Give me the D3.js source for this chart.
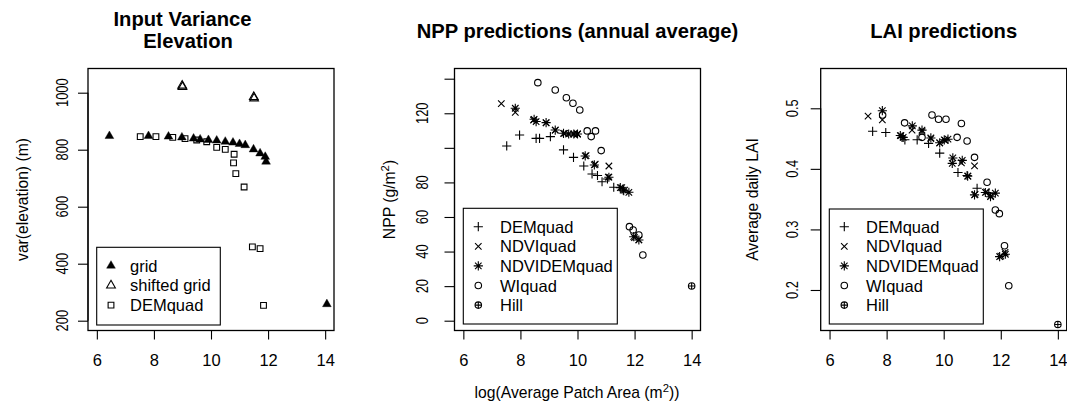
<!DOCTYPE html>
<html><head><meta charset="utf-8">
<script src="https://cdn.jsdelivr.net/npm/d3@7"></script>
<style>
html,body{margin:0;padding:0;background:#fff;}
svg text{font-family:"Liberation Sans",Arial,Helvetica,sans-serif;fill:#000;}
</style></head>
<body><svg id="c" width="1067" height="408"></svg>
<script>
// ---------- data ----------
const xTicks = [6, 8, 10, 12, 14];

// Panel 1: Input variance elevation
const elevYTicks = [200, 400, 600, 800, 1000];
const elevYLabels = ["200", "400", "600", "800", "1000"];
const gridX = [6.44, 7.81, 8.51, 8.98, 9.39, 9.62, 9.91, 10.2, 10.5, 10.77, 11.0, 11.2, 11.49, 11.72, 11.9, 11.93, 14.06];
const gridY = [848, 848, 846, 843, 839, 836, 834, 832, 828, 825, 820, 816, 801, 787, 775, 758, 258];
const shiftedX = [8.99, 9.0, 11.5, 11.51];
const shiftedY = [1025, 1020, 985, 980];
const elevDemX = [7.52, 8.07, 8.66, 9.09, 9.5, 9.85, 10.2, 10.5, 10.81, 10.79, 10.87, 11.16, 11.45, 11.72, 11.84];
const elevDemY = [846, 846, 843, 839, 834, 828, 808, 801, 784, 754, 716, 669, 459, 453, 254];

// Panel 2: NPP predictions
const nppYTicks = [0, 20, 40, 60, 80, 100, 120, 140];
const nppYLabels = ["0", "20", "40", "60", "80", "", "120", ""];
const nppDemX = [7.52, 7.97, 8.55, 8.67, 9.05, 9.51, 9.86, 10.22, 10.51, 10.7, 10.86, 11.05, 11.27, 11.62];
const nppDemY = [101.1, 107.4, 105.5, 105.5, 106.5, 98.8, 94.5, 89.5, 84.9, 84.0, 80.4, 82.0, 77.2, 75.2];
const nppNdviX = [7.33, 7.82, 8.46, 8.9, 9.22, 9.55, 9.87, 10.0, 10.3, 10.62, 11.1, 11.08, 11.55, 11.65, 12.0, 12.15];
const nppNdviY = [125.6, 120.5, 116.1, 114.5, 110.3, 108.4, 108.0, 108.0, 95.5, 90.5, 89.5, 83.0, 77.0, 75.5, 48.0, 46.8];
const nppNdvidemX = [7.82, 8.48, 8.55, 8.9, 9.22, 9.51, 9.69, 9.87, 10.0, 10.27, 10.59, 11.1, 11.5, 11.6, 11.8, 11.97, 12.15];
const nppNdvidemY = [122.9, 116.5, 115.2, 114.6, 110.3, 108.4, 108.0, 108.0, 108.0, 95.3, 90.1, 83.0, 77.0, 75.6, 74.3, 48.6, 46.7];
const nppWiX = [8.61, 9.22, 9.61, 9.84, 10.08, 10.34, 10.48, 10.63, 10.83, 11.82, 11.95, 12.15, 12.29];
const nppWiY = [137.7, 133.5, 129.0, 125.8, 121.9, 109.8, 106.5, 109.8, 98.4, 54.4, 52.5, 49.6, 38.0];
const nppHillX = [14.0];
const nppHillY = [20.1];

// Panel 3: LAI predictions
const laiYTicks = [0.2, 0.3, 0.4, 0.5];
const laiYLabels = ["0.2", "0.3", "0.4", "0.5"];
const laiDemX = [7.51, 7.97, 8.54, 8.64, 9.07, 9.47, 9.86, 10.3, 10.5, 10.82, 11.17, 11.58];
const laiDemY = [0.462, 0.460, 0.452, 0.448, 0.448, 0.442, 0.426, 0.409, 0.394, 0.389, 0.368, 0.360];
const laiNdviX = [7.35, 7.85, 8.5, 8.89, 9.24, 9.55, 9.86, 10.05, 10.3, 10.62, 10.85, 11.08, 11.1, 11.5, 11.65, 12.0, 12.15];
const laiNdviY = [0.487, 0.481, 0.455, 0.464, 0.462, 0.450, 0.443, 0.447, 0.409, 0.410, 0.388, 0.405, 0.358, 0.362, 0.355, 0.256, 0.262];
const laiNdvidemX = [7.85, 8.48, 8.58, 8.9, 9.24, 9.55, 9.86, 10.02, 10.15, 10.32, 10.65, 10.84, 11.08, 11.46, 11.64, 11.81, 11.96, 12.16];
const laiNdvidemY = [0.496, 0.455, 0.452, 0.471, 0.464, 0.451, 0.443, 0.448, 0.449, 0.418, 0.414, 0.388, 0.357, 0.361, 0.354, 0.360, 0.255, 0.259];
const laiWiX = [7.86, 8.63, 9.24, 9.59, 9.82, 10.08, 10.47, 10.62, 10.82, 11.08, 11.52, 11.81, 11.95, 12.13, 12.28];
const laiWiY = [0.489, 0.476, 0.452, 0.489, 0.482, 0.482, 0.452, 0.475, 0.446, 0.419, 0.378, 0.332, 0.326, 0.273, 0.207];
const laiHillX = [14.0];
const laiHillY = [0.143];

// ---------- drawing ----------
const svg = d3.select("#c");
const R = 3.25;
const FONT_TICK = 16.5, FONT_LAB = 15.7, FONT_LEG = 16.5, FONT_TITLE = 20.2;

function symPath(type) {
  const p = d3.path();
  if (type === "tri" || type === "triFill") {
    const r = 1.5551 * R, xc = 1.3468 * R, yc = 0.7776 * R;
    p.moveTo(0, -r); p.lineTo(xc, yc); p.lineTo(-xc, yc); p.closePath();
  } else if (type === "square") {
    const h = 0.8862 * R; p.rect(-h, -h, 2 * h, 2 * h);
  } else if (type === "plus") {
    const h = Math.SQRT2 * R; p.moveTo(-h, 0); p.lineTo(h, 0); p.moveTo(0, -h); p.lineTo(0, h);
  } else if (type === "cross") {
    const h = R; p.moveTo(-h, -h); p.lineTo(h, h); p.moveTo(-h, h); p.lineTo(h, -h);
  } else if (type === "star") {
    let h = R; p.moveTo(-h, -h); p.lineTo(h, h); p.moveTo(-h, h); p.lineTo(h, -h);
    h = Math.SQRT2 * R; p.moveTo(-h, 0); p.lineTo(h, 0); p.moveTo(0, -h); p.lineTo(0, h);
  } else if (type === "circle") {
    p.moveTo(R, 0); p.arc(0, 0, R, 0, 2 * Math.PI);
  } else if (type === "circplus") {
    p.moveTo(R, 0); p.arc(0, 0, R, 0, 2 * Math.PI);
    p.moveTo(-R, 0); p.lineTo(R, 0); p.moveTo(0, -R); p.lineTo(0, R);
  }
  return p.toString();
}
function drawSym(g, type, x, y) {
  const path = g.append("path").attr("d", symPath(type)).attr("transform", `translate(${x},${y})`);
  if (type === "triFill") {
    path.attr("fill", "#000").attr("stroke", "#000").attr("stroke-width", 0.4);
  } else {
    path.attr("fill", "none").attr("stroke", "#000").attr("stroke-width", 1.1);
  }
}

const TOP = 68.5, BOTTOM = 330.5;
const xDomain = [5.69, 14.31];

const panels = [
  {
    left: 88, right: 334, yDomain: [165.6, 1084.9],
    yTicks: elevYTicks, yLabels: elevYLabels, tickLabX: 68.3, axisTitleX: 28,
    ylab: [{t: "var(elevation) (m)"}],
    title: [{t: "Input Variance", x: 182.5, y: 26}, {t: "Elevation", x: 188, y: 48}],
    series: [
      {name: "grid", sym: "triFill", x: gridX, y: gridY},
      {name: "shifted grid", sym: "tri", x: shiftedX, y: shiftedY},
      {name: "DEMquad", sym: "square", x: elevDemX, y: elevDemY}
    ],
    legend: {x0: 96.7, y0: 247.3, x1: 220.3, y1: 325, symX: 111, textX: 130, row0: 265.7, dy: 19.7}
  },
  {
    left: 454.5, right: 700.5, yDomain: [-5.67, 145.9],
    yTicks: nppYTicks, yLabels: nppYLabels, tickLabX: 428.3, axisTitleX: 395,
    ylab: [{t: "NPP (g/m"}, {t: "2", sup: true}, {t: ")"}],
    title: [{t: "NPP predictions (annual average)", x: 577.5, y: 37.5}],
    series: [
      {name: "DEMquad", sym: "plus", x: nppDemX, y: nppDemY},
      {name: "NDVIquad", sym: "cross", x: nppNdviX, y: nppNdviY},
      {name: "NDVIDEMquad", sym: "star", x: nppNdvidemX, y: nppNdvidemY},
      {name: "WIquad", sym: "circle", x: nppWiX, y: nppWiY},
      {name: "Hill", sym: "circplus", x: nppHillX, y: nppHillY}
    ],
    legend: {x0: 463.3, y0: 208.3, x1: 617.3, y1: 324, symX: 478.3, textX: 500, row0: 226.7, dy: 19.6}
  },
  {
    left: 820.7, right: 1066.7, yDomain: [0.1331, 0.5657],
    yTicks: laiYTicks, yLabels: laiYLabels, tickLabX: 798.3, axisTitleX: 758.4,
    ylab: [{t: "Average daily LAI"}],
    title: [{t: "LAI predictions", x: 943.7, y: 37.5}],
    series: [
      {name: "DEMquad", sym: "plus", x: laiDemX, y: laiDemY},
      {name: "NDVIquad", sym: "cross", x: laiNdviX, y: laiNdviY},
      {name: "NDVIDEMquad", sym: "star", x: laiNdvidemX, y: laiNdvidemY},
      {name: "WIquad", sym: "circle", x: laiWiX, y: laiWiY},
      {name: "Hill", sym: "circplus", x: laiHillX, y: laiHillY}
    ],
    legend: {x0: 829.3, y0: 209, x1: 983.3, y1: 324, symX: 844.3, textX: 866, row0: 226.7, dy: 19.6}
  }
];

panels.forEach(P => {
  const g = svg.append("g");
  const x = d3.scaleLinear().domain(xDomain).range([P.left, P.right]);
  const y = d3.scaleLinear().domain(P.yDomain).range([BOTTOM, TOP]);

  // points
  P.series.forEach(s => {
    s.x.forEach((xv, i) => drawSym(g, s.sym, x(xv), y(s.y[i])));
  });

  // box
  g.append("rect").attr("x", P.left).attr("y", TOP)
    .attr("width", P.right - P.left).attr("height", BOTTOM - TOP)
    .attr("fill", "none").attr("stroke", "#000").attr("stroke-width", 1.3);

  // x axis (ticks only, R style)
  const xa = g.append("g").attr("transform", `translate(0,${BOTTOM})`)
    .call(d3.axisBottom(x).tickValues(xTicks).tickSize(9).tickPadding(0).tickFormat(d3.format("d")));
  xa.select(".domain").attr("d", `M${x(xTicks[0])},0H${x(xTicks[xTicks.length - 1])}`).attr("stroke-width", 1.1);
  xa.selectAll(".tick line").attr("stroke-width", 1.1);
  xa.selectAll(".tick text").attr("font-size", FONT_TICK).attr("dy", null).attr("y", 366 - BOTTOM)
    .attr("font-family", null);

  // y axis
  const ya = g.append("g").attr("transform", `translate(${P.left},0)`)
    .call(d3.axisLeft(y).tickValues(P.yTicks).tickSize(10).tickFormat((d, i) => P.yLabels[i]));
  ya.select(".domain").attr("d", `M0,${y(P.yTicks[0])}V${y(P.yTicks[P.yTicks.length - 1])}`).attr("stroke-width", 1.1);
  ya.selectAll(".tick line").attr("stroke-width", 1.1);
  ya.selectAll(".tick text").remove();
  P.yTicks.forEach((t, i) => {
    if (!P.yLabels[i]) return;
    g.append("text")
      .attr("transform", `translate(${P.tickLabX},${y(t)}) rotate(-90) scale(0.78,1)`)
      .attr("text-anchor", "middle").attr("font-size", FONT_TICK).text(P.yLabels[i]);
  });

  // y title
  const yt = g.append("text")
    .attr("transform", `translate(${P.axisTitleX},199.5) rotate(-90)`)
    .attr("text-anchor", "middle").attr("font-size", FONT_LAB);
  P.ylab.forEach(part => {
    const ts = yt.append("tspan").text(part.t);
    if (part.sup) ts.attr("font-size", FONT_LAB * 0.72).attr("dy", -6);
    else if (part.t === ")") ts.attr("dy", 6);
  });

  // title
  P.title.forEach(t => {
    g.append("text").attr("x", t.x).attr("y", t.y).attr("text-anchor", "middle")
      .attr("font-size", FONT_TITLE).attr("font-weight", "bold").text(t.t);
  });

  // legend
  const L = P.legend;
  g.append("rect").attr("x", L.x0).attr("y", L.y0).attr("width", L.x1 - L.x0).attr("height", L.y1 - L.y0)
    .attr("fill", "none").attr("stroke", "#000").attr("stroke-width", 1.1);
  P.series.forEach((s, i) => {
    const cy = L.row0 + i * L.dy;
    drawSym(g, s.sym, L.symX, cy);
    g.append("text").attr("x", L.textX).attr("y", cy + 6).attr("font-size", FONT_LEG).text(s.name);
  });
});

// shared x label under middle panel
const xl = svg.append("text").attr("x", 577).attr("y", 398).attr("text-anchor", "middle").attr("font-size", FONT_LAB);
xl.append("tspan").text("log(Average Patch Area (m");
xl.append("tspan").text("2").attr("font-size", FONT_LAB * 0.72).attr("dy", -6);
xl.append("tspan").text("))").attr("dy", 6);
</script>
</body></html>
